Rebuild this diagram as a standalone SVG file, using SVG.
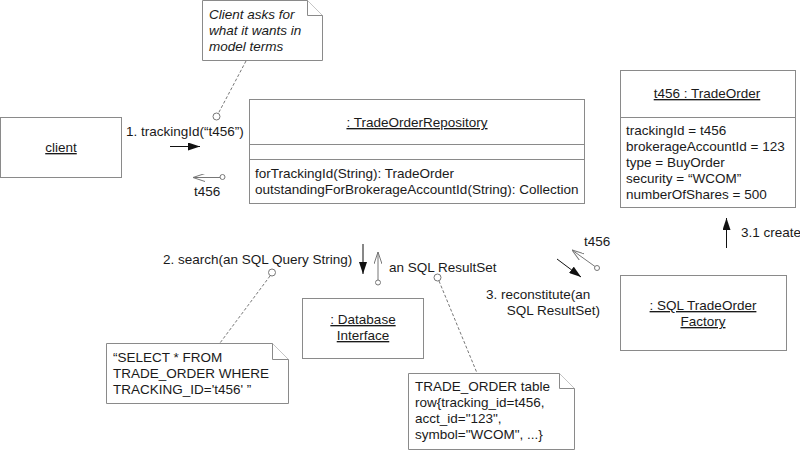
<svg xmlns="http://www.w3.org/2000/svg" width="800" height="450" viewBox="0 0 800 450">
<defs>
<style>
text{font-family:"Liberation Sans",Arial,sans-serif;font-size:13.5px;fill:#1a1a1a}
.box{fill:#fff;stroke:#8a8a8a;stroke-width:1}
.u{text-decoration:underline}
.it{font-style:italic}
.dash{stroke:#777;stroke-width:1;stroke-dasharray:3,2;fill:none}
.pin{fill:#fff;stroke:#777;stroke-width:1}
.msg{stroke:#111;stroke-width:1;fill:none}
.ret{stroke:#777;stroke-width:1;fill:none}
</style>
<marker id="fill" viewBox="0 0 12 8" refX="12" refY="4" markerWidth="12" markerHeight="8" markerUnits="userSpaceOnUse" orient="auto">
<path d="M0,0 L12,4 L0,8 Z" fill="#111"/>
</marker>
<marker id="open" viewBox="0 0 12 8" refX="12" refY="4" markerWidth="12" markerHeight="8" markerUnits="userSpaceOnUse" orient="auto">
<path d="M0,0 L12,4 L0,8" fill="none" stroke="#777" stroke-width="1"/>
</marker>
</defs>
<rect width="800" height="450" fill="#fff"/>

<g id="client">
<rect class="box" x="0.5" y="117.5" width="121" height="60"/>
<text class="u" x="61" y="152" text-anchor="middle">client</text>
</g>

<g id="note-client">
<path class="box" d="M202.5,0.5 H307.5 L322.5,15.5 V60.5 H202.5 Z"/>
<path class="box" d="M307.5,0.5 V15.5 H322.5" fill="none"/>
<text class="it" x="209" y="19">Client asks for</text>
<text class="it" x="209" y="35">what it wants in</text>
<text class="it" x="209" y="51">model terms</text>
</g>

<g id="repository">
<rect class="box" x="249.5" y="99.5" width="335" height="104"/>
<line class="box" x1="249.5" y1="144.5" x2="584.5" y2="144.5"/>
<line class="box" x1="249.5" y1="159.5" x2="584.5" y2="159.5"/>
<text class="u" x="417" y="127" text-anchor="middle">: TradeOrderRepository</text>
<text x="255" y="178">forTrackingId(String): TradeOrder</text>
<text x="255" y="194">outstandingForBrokerageAccountId(String): Collection</text>
</g>

<g id="tradeorder">
<rect class="box" x="620.5" y="70.5" width="175" height="137"/>
<line class="box" x1="620.5" y1="117.5" x2="795.5" y2="117.5"/>
<text class="u" x="707" y="98" text-anchor="middle">t456 : TradeOrder</text>
<text x="626" y="135">trackingId = t456</text>
<text x="626" y="151">brokerageAccountId = 123</text>
<text x="626" y="167">type = BuyOrder</text>
<text x="626" y="183">security = “WCOM”</text>
<text x="626" y="199">numberOfShares = 500</text>
</g>

<g id="database">
<rect class="box" x="302.5" y="298.5" width="121" height="60"/>
<text class="u" x="363" y="324" text-anchor="middle">: Database</text>
<text class="u" x="363" y="340" text-anchor="middle">Interface</text>
</g>

<g id="factory">
<rect class="box" x="620.5" y="275.5" width="166" height="75"/>
<text class="u" x="703" y="310" text-anchor="middle">: SQL TradeOrder</text>
<text class="u" x="703" y="326" text-anchor="middle">Factory</text>
</g>

<g id="note-sql">
<path class="box" d="M106.5,343.5 H272.5 L288.5,359.5 V403.5 H106.5 Z"/>
<path class="box" d="M272.5,343.5 V359.5 H288.5" fill="none"/>
<text x="113" y="362">“SELECT * FROM</text>
<text x="113" y="378">TRADE_ORDER WHERE</text>
<text x="113" y="394">TRACKING_ID='t456' ”</text>
</g>

<g id="note-row">
<path class="box" d="M408.5,373.5 H559.5 L574.5,388.5 V449.5 H408.5 Z"/>
<path class="box" d="M559.5,373.5 V388.5 H574.5" fill="none"/>
<text x="415" y="391">TRADE_ORDER table</text>
<text x="415" y="407">row{tracking_id=t456,</text>
<text x="415" y="423">acct_id="123",</text>
<text x="415" y="439">symbol="WCOM", ...}</text>
</g>

<g id="connectors">
<line class="dash" x1="246" y1="61" x2="218" y2="114"/>
<circle class="pin" cx="216.5" cy="116.5" r="3.5"/>
<text x="126" y="136">1. trackingId(“t456”)</text>
<line class="msg" x1="170" y1="146.5" x2="200" y2="146.5" marker-end="url(#fill)"/>
<line class="ret" x1="220" y1="177.5" x2="193" y2="177.5" marker-end="url(#open)"/>
<circle class="pin" cx="222.5" cy="177" r="2.5"/>
<text x="194" y="196">t456</text>

<text x="163" y="264">2. search(an SQL Query String)</text>
<line class="msg" x1="363" y1="244" x2="363" y2="274" marker-end="url(#fill)"/>
<line class="ret" x1="378" y1="280" x2="378" y2="252" marker-end="url(#open)"/>
<circle class="pin" cx="378" cy="282.5" r="2.5"/>
<text x="389" y="272">an SQL ResultSet</text>
<circle class="pin" cx="272" cy="272.5" r="3.5"/>
<line class="dash" x1="270" y1="276" x2="220" y2="343"/>
<circle class="pin" cx="437.5" cy="277.5" r="3.5"/>
<line class="dash" x1="439" y1="281" x2="477" y2="373"/>

<text x="584" y="246">t456</text>
<line class="ret" x1="595" y1="266.5" x2="572" y2="250" marker-end="url(#open)"/>
<circle class="pin" cx="597" cy="268" r="2.5"/>
<line class="msg" x1="557" y1="259" x2="581" y2="277" marker-end="url(#fill)"/>
<text x="486" y="299">3. reconstitute(an</text>
<text x="600" y="315" text-anchor="end">SQL ResultSet)</text>

<line class="msg" x1="726.5" y1="248" x2="726.5" y2="218" marker-end="url(#fill)"/>
<text x="741" y="237">3.1 create</text>
</g>
</svg>
